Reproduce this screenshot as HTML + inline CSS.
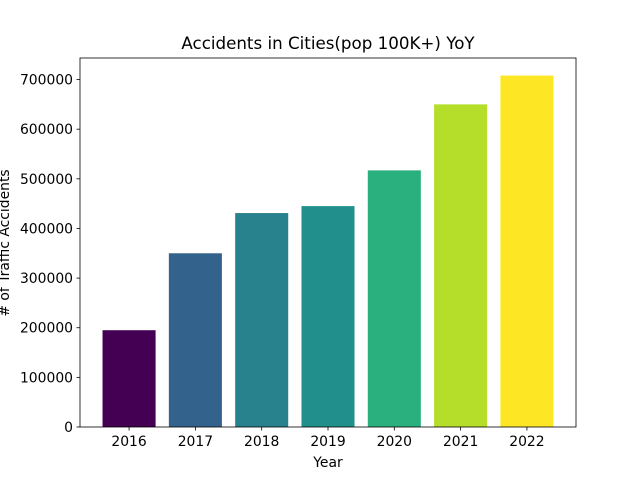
<!DOCTYPE html>
<html><head><meta charset="utf-8"><style>
body{margin:0;background:#fff}
svg{display:block;font-family:"DejaVu Sans","Liberation Sans",sans-serif}
</style></head><body>
<svg id="chart" width="640" height="480" viewBox="0 0 640 480">
<text x="328" y="49" font-size="16.7" text-anchor="middle">Accidents in Cities(pop 100K+) YoY</text>
<g id="bars"></g>
<g id="axes"></g>
<text x="328" y="467" font-size="13.9" text-anchor="middle">Year</text>
<text transform="translate(9,243) rotate(-90)" font-size="13.9" text-anchor="middle"># of Traffic Accidents</text>
</svg>
<script>
const categories=["2016","2017","2018","2019","2020","2021","2022"];
const values=[195000,350000,431000,445000,517000,650000,708000];
const colors=["#440154","#33638d","#28828e","#21908d","#2ab07f","#b5de2b","#fde725"];
const yTicks=[0,100000,200000,300000,400000,500000,600000,700000];
const NS="http://www.w3.org/2000/svg";
const L=80,R=576,T=58,B=427;
const n=categories.length;
const xmin=-0.4-0.05*(n-1+0.8),xmax=n-1+0.4+0.05*(n-1+0.8);
const ymax=Math.max(...values)*1.05;
const xs=v=>L+(v-xmin)/(xmax-xmin)*(R-L);
const ys=v=>B-v/ymax*(B-T);
function mk(t,a,p){const e=document.createElementNS(NS,t);for(const k in a)e.setAttribute(k,a[k]);p.appendChild(e);return e;}
const bars=document.getElementById('bars'),axes=document.getElementById('axes');
values.forEach((v,i)=>{
const r=mk('rect',{x:xs(i-0.4),y:ys(v),width:xs(i+0.4)-xs(i-0.4),height:B-ys(v),fill:colors[i]},bars);


const tk=mk('line',{x1:xs(i),x2:xs(i),y1:B,y2:B+3.5,stroke:'#000','stroke-width':0.8},axes);


const t=mk('text',{x:xs(i),y:B+19,'font-size':13.9,'text-anchor':'middle'},axes);
t.textContent=categories[i];


});
yTicks.forEach(v=>{
const tk=mk('line',{x1:L-3.5,x2:L,y1:ys(v),y2:ys(v),stroke:'#000','stroke-width':0.8},axes);


const t=mk('text',{x:L-7,y:ys(v)+5,'font-size':13.9,'text-anchor':'end'},axes);
t.textContent=String(v);


});
const fr=mk('rect',{x:L,y:T,width:R-L,height:B-T,fill:'none',stroke:'#000','stroke-width':0.8},axes);


</script>
</body></html>
